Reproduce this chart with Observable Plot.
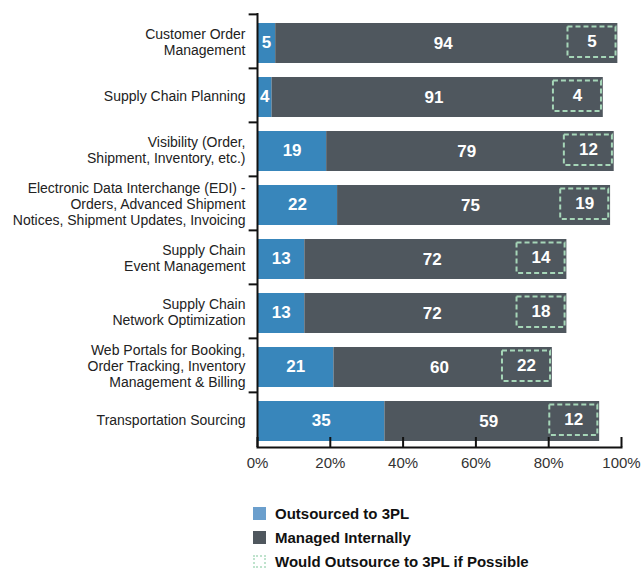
<!DOCTYPE html>
<html><head><meta charset="utf-8">
<script src="https://cdn.jsdelivr.net/npm/d3@7"></script>
<script src="https://cdn.jsdelivr.net/npm/@observablehq/plot@0.6"></script>
<style>
body{margin:0;background:#fff;font-family:"Liberation Sans",Arial,sans-serif;}
#legend{margin-left:253px;margin-top:26px}
.item{display:flex;align-items:center;height:24px;font-weight:bold;font-size:15px;color:#111}
.sw{width:13px;height:13px;margin-right:9px;box-sizing:border-box}
</style></head><body><div id="chart"></div><div id="legend"></div>
<script>
const categories = [
  "Customer Order\nManagement",
  "Supply Chain Planning",
  "Visibility (Order,\nShipment, Inventory, etc.)",
  "Electronic Data Interchange (EDI) -\nOrders, Advanced Shipment\nNotices, Shipment Updates, Invoicing",
  "Supply Chain\nEvent Management",
  "Supply Chain\nNetwork Optimization",
  "Web Portals for Booking,\nOrder Tracking, Inventory\nManagement & Billing",
  "Transportation Sourcing"
];
const outsourced = [5, 4, 19, 22, 13, 13, 21, 35];
const managedInternally = [94, 91, 79, 75, 72, 72, 60, 59];
const wouldOutsource = [5, 4, 12, 19, 14, 18, 22, 12];
const xTicks = [0, 20, 40, 60, 80, 100];
const seriesNames = ["Outsourced to 3PL", "Managed Internally", "Would Outsource to 3PL if Possible"];
const barColors = ["#3886bb", "#4f575e", "#a6d6b8"];
const legendColors = ["#6b9fcd", "#4f575e", "#bfe3cd"];

const rows = categories.map((c, i) => ({
  cat: c, out: outsourced[i], internal: managedInternally[i], would: wouldOutsource[i],
  total: outsourced[i] + managedInternally[i]
}));

const W = 643, H = 475, mt = 13, mb = 28, ml = 257, mr = 22;
const step = (H - mt - mb) / categories.length;
const boxW = 13.2;   // box width in % units
const boxGap = 0.5;
const shift = 2;

const chart = Plot.plot({
  width: W, height: H,
  marginTop: mt, marginBottom: mb, marginLeft: ml, marginRight: mr,
  style: {fontFamily: "'Liberation Sans', Arial, sans-serif", background: "#fff"},
  x: {domain: [0, 100], axis: null},
  y: {domain: categories, paddingInner: 0.262, paddingOuter: 0.131, axis: null},
  marks: [
    Plot.barX(rows, {y: "cat", x1: 0, x2: "out", fill: barColors[0], dy: shift}),
    Plot.barX(rows, {y: "cat", x1: "out", x2: "total", fill: barColors[1], dy: shift}),
    Plot.rect(rows, {y: "cat", x1: d => d.total - boxW - boxGap, x2: d => d.total - boxGap,
      insetTop: 3.5, insetBottom: 6, dy: shift, fill: "none", stroke: barColors[2], strokeWidth: 2, strokeDasharray: "5,3"}),
    Plot.text(rows, {y: "cat", x: d => d.out / 2, text: d => String(d.out),
      fill: "white", fontWeight: "bold", fontSize: 17, dy: shift - 1}),
    Plot.text(rows, {y: "cat", x: d => d.out + d.internal / 2 - 1, text: d => String(d.internal),
      fill: "white", fontWeight: "bold", fontSize: 17, dy: shift}),
    Plot.text(rows, {y: "cat", x: d => d.total - boxGap - boxW / 2, text: d => String(d.would),
      fill: "white", fontWeight: "bold", fontSize: 17, dy: shift - 1.5}),
    Plot.text(rows, {y: "cat", x: 0, text: "cat", textAnchor: "end", dx: -12,
      fontSize: 14, lineHeight: 1.15, fill: "#222"}),
    Plot.ruleY(categories, {y: d => d, x1: -2.3, x2: 0, dy: -step / 2, stroke: "#111", strokeWidth: 2}),
    Plot.ruleX([0], {stroke: "#111", strokeWidth: 2}),
    Plot.frame({anchor: "bottom", stroke: "#111", strokeWidth: 2}),
    Plot.axisX({ticks: xTicks, tickSize: -10, strokeWidth: 2, stroke: "#111", tickFormat: () => ""}),
    Plot.axisX({ticks: xTicks, tickSize: 0, tickPadding: 10, tickFormat: d => d + "%",
      fontSize: 15, fill: "#333"})
  ]
});
document.getElementById("chart").appendChild(chart);

const legend = document.getElementById("legend");
seriesNames.forEach((name, i) => {
  const item = document.createElement("div");
  item.className = "item";
  const sw = document.createElement("div");
  sw.className = "sw";
  if (i === 2) { sw.style.border = "2px dotted " + legendColors[2]; }
  else { sw.style.background = legendColors[i]; }
  const t = document.createElement("span");
  t.textContent = name;
  item.appendChild(sw); item.appendChild(t);
  legend.appendChild(item);
});
</script></body></html>
